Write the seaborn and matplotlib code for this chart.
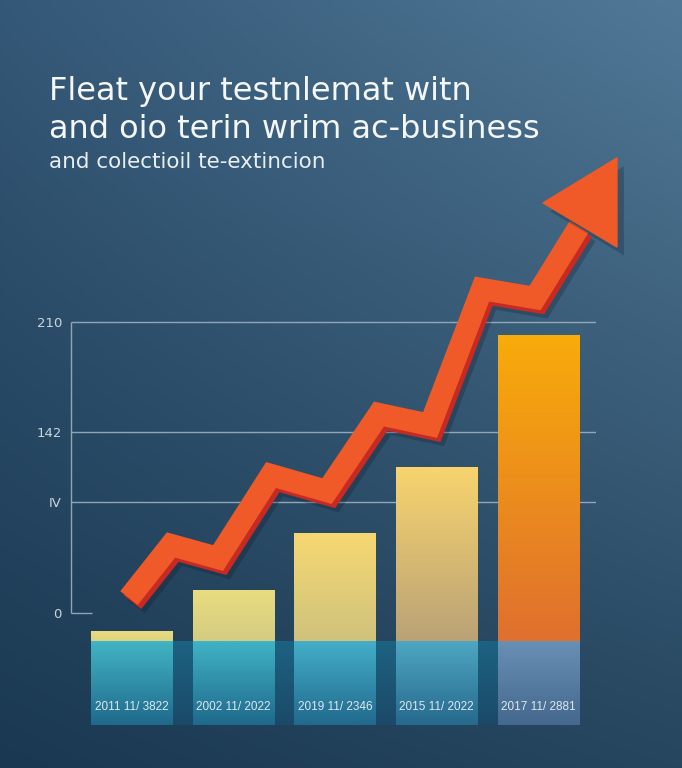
import numpy as np
import matplotlib
matplotlib.use('Agg')
import matplotlib.pyplot as plt
import matplotlib.patheffects as pe
from matplotlib.colors import LinearSegmentedColormap, to_rgb
import seaborn as sns

# ========== Data ==========
periods = ['2011 11/ 3822', '2002 11/ 2022', '2019 11/ 2346', '2015 11/ 2022', '2017 11/ 2881']
values = [6.5, 36.1, 77.9, 125.5, 220.1]
ytick_vals = [20.2, 100.3, 150.8, 230.2]
ytick_labels = ['0', 'IV', '142', '210']

# zigzag trend arrow (x in bar slots, y in value units)
trend_x = [-0.025, 0.388, 0.850, 1.371, 1.921, 2.432, 2.934, 3.445, 3.966, 4.398]
trend_y = [31.0, 69.3, 59.9, 119.8, 108.2, 163.8, 155.9, 254.0, 247.5, 298.8]
head_x = [4.771, 4.044, 4.771]
head_y = [348.6, 316.1, 284.3]

title_lines = ['Fleat your testnlemat witn', 'and oio terin wrim ac-business']
subtitle = 'and colectioil te-extincion'

# ========== Colours ==========
bar_tops = ['#e8da82', '#e9dc80', '#f6d872', '#f7d46e', '#f8ab0a']
bar_bottoms = ['#ddd47e', '#d3cc82', '#cfc27c', '#baa276', '#e0702e']
band_tops = ['#42b4c4', '#40b2c6', '#44aec8', '#4ea6c2', '#6890b4']
band_bottoms = ['#1f6a8c', '#1f6a8c', '#216a8e', '#266a8e', '#45688e']
arrow_col = '#f05a28'
shadow_col = '#c62a22'
band_depth = 60.6

fig = plt.figure(figsize=(6.82, 7.68), dpi=100)

# background gradient
bg = fig.add_axes([0, 0, 1, 1], zorder=-10)
u = np.linspace(0, 1, 256)[None, :, None]
v = np.linspace(0, 1, 256)[:, None, None]
tl, tr, bl, br = [np.array(to_rgb(c)) for c in ('#345877', '#517997', '#1a3851', '#26455e')]
img = (1 - u) * (1 - v) * tl + u * (1 - v) * tr + (1 - u) * v * bl + u * v * br
bg.imshow(img, extent=(0, 1, 0, 1), aspect='auto', origin='upper')
bg.axis('off')

ax = fig.add_axes([71 / 682, 28 / 768, 525 / 682, 590 / 768])
ax.set_facecolor('none')
xlim = (-0.595, 4.565)
ylim = (-71.4, 354.3)

sns.barplot(x=periods, y=values, ax=ax, width=0.8, color='white', zorder=2)


def gradient(ax, x0, x1, y_top, y_bot, top, bottom, z, alpha=1.0):
    cmap = LinearSegmentedColormap.from_list('g', [bottom, top])
    grad = np.linspace(0, 1, 64)[:, None]
    ax.imshow(grad, cmap=cmap, extent=(x0, x1, y_bot, y_top), origin='lower',
              aspect='auto', zorder=z, alpha=alpha)


# strip between bars
ax.imshow(np.linspace(0, 1, 64)[:, None],
          cmap=LinearSegmentedColormap.from_list('s', ['#1b4a68', '#1d6282']),
          extent=(-0.4, 4.4, -band_depth, 0), origin='lower', aspect='auto', zorder=1.5)

for i, patch in enumerate(ax.patches):
    x0 = patch.get_x()
    x1 = x0 + patch.get_width()
    patch.set_facecolor('none')
    patch.set_edgecolor('none')
    gradient(ax, x0, x1, patch.get_height(), 0, bar_tops[i], bar_bottoms[i], 2)
    gradient(ax, x0, x1, 0, -band_depth, band_tops[i], band_bottoms[i], 2)
    ax.text(i, -47.6, periods[i], ha='center', va='center', color='#dde9f0',
            fontsize=8.5, family=['Liberation Sans Narrow', 'Liberation Sans'], zorder=3)

# grid and axis
grid_col = '#a3b6c5'
ax.hlines(ytick_vals[1:], xlim[0], xlim[1], color=grid_col, lw=1.0, alpha=0.85, zorder=1)
ax.hlines(ytick_vals[0], xlim[0], xlim[0] + 0.21, color=grid_col, lw=1.0, alpha=0.85, zorder=1)
ax.vlines(xlim[0], ytick_vals[0], ytick_vals[-1], color=grid_col, lw=1.0, alpha=0.85,
          zorder=1, clip_on=False)

# trend arrow
ax.plot(trend_x, trend_y, color=arrow_col, lw=16, solid_joinstyle='miter',
        solid_capstyle='butt', zorder=5, clip_on=False,
        path_effects=[pe.SimpleLineShadow(offset=(5, -6), shadow_color='#0a1828', alpha=0.25),
                      pe.SimpleLineShadow(offset=(2.5, -3), shadow_color=shadow_col, alpha=1),
                      pe.Normal()])
ax.fill(head_x, head_y, color=arrow_col, zorder=6, clip_on=False,
        path_effects=[pe.SimplePatchShadow(offset=(5, -6), shadow_rgbFace='#0a1828', alpha=0.25),
                      pe.Normal()])

ax.set_xlim(*xlim)
ax.set_ylim(*ylim)
ax.set_xticks([])
ax.set_yticks(ytick_vals, ytick_labels)
ax.tick_params(axis='y', length=0, pad=6.5, labelcolor='#c9d5df', labelsize=9.5)
for s in ax.spines.values():
    s.set_visible(False)
ax.set_xlabel('')
ax.set_ylabel('')

# titles
fig.text(49 / 682, 1 - 100 / 768, title_lines[0], fontsize=23, color='#f4f6f8',
         va='baseline', ha='left')
fig.text(49 / 682, 1 - 138 / 768, title_lines[1], fontsize=23, color='#f4f6f8',
         va='baseline', ha='left')
fig.text(49 / 682, 1 - 168 / 768, subtitle, fontsize=15.5, color='#e8eef2',
         va='baseline', ha='left')

fig.savefig('out.png', dpi=100)
